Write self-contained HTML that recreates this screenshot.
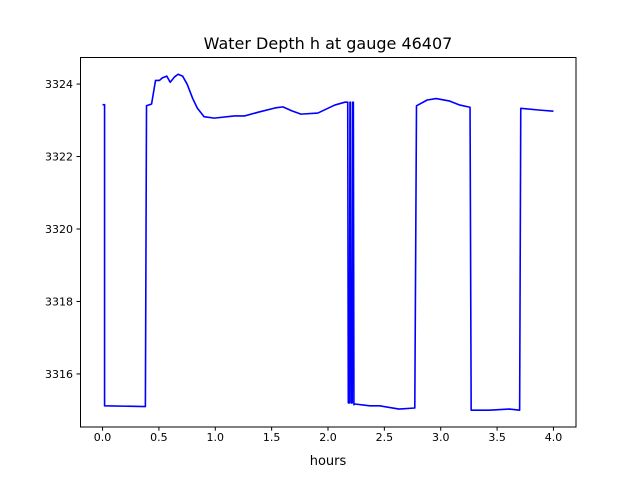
<!DOCTYPE html>
<html><head><meta charset="utf-8"><style>
body{margin:0;background:#fff;}
svg{display:block;font-family:"DejaVu Sans","Liberation Sans",sans-serif;}
</style></head><body>
<svg id="chart" width="640" height="480">
<rect x="0" y="0" width="640" height="480" fill="#fff"/>
<text x="328" y="49" text-anchor="middle" font-size="16">Water Depth h at gauge 46407</text>
<text x="328" y="465" text-anchor="middle" font-size="13">hours</text>
<g id="ticks"></g>
<path id="line" fill="none" stroke="#0000ff" stroke-width="1.6" stroke-linejoin="round"/>
<rect x="80.5" y="57.5" width="495.5" height="369.5" fill="none" stroke="#000" stroke-width="1"/>
</svg>
<script>
const hours = [0,0.018,0.018,0.38,0.39,0.435,0.47,0.505,0.53,0.57,0.60,0.64,0.67,0.71,0.75,0.80,0.84,0.90,0.99,1.17,1.26,1.39,1.53,1.6,1.68,1.76,1.91,2.06,2.15,2.175,2.18,2.19,2.195,2.20,2.205,2.215,2.22,2.225,2.23,2.24,2.37,2.46,2.63,2.77,2.785,2.88,2.96,3.08,3.17,3.26,3.27,3.43,3.61,3.70,3.71,3.88,4.0];
const depth = [3323.43,3323.43,3315.12,3315.1,3323.4,3323.45,3324.1,3324.1,3324.17,3324.22,3324.05,3324.2,3324.27,3324.22,3324.0,3323.6,3323.34,3323.1,3323.06,3323.12,3323.12,3323.23,3323.34,3323.37,3323.26,3323.17,3323.2,3323.42,3323.5,3323.5,3315.2,3315.2,3323.5,3323.5,3315.2,3315.2,3323.5,3323.5,3315.15,3315.17,3315.12,3315.12,3315.03,3315.06,3323.4,3323.56,3323.6,3323.53,3323.42,3323.36,3315.0,3315.0,3315.03,3315.0,3323.33,3323.28,3323.25];
const xTicks = [0.0,0.5,1.0,1.5,2.0,2.5,3.0,3.5,4.0];
const xTickLabels = ["0.0","0.5","1.0","1.5","2.0","2.5","3.0","3.5","4.0"];
const yTicks = [3316,3318,3320,3322,3324];
const yTickLabels = ["3316","3318","3320","3322","3324"];
const X0=-0.2,X1=4.2,Y0=3314.53,Y1=3324.73;
const L=80,R=576,T=57.6,B=427.2;
function xs(v){return L+(v-X0)/(X1-X0)*(R-L);}
function ys(v){return B-(v-Y0)/(Y1-Y0)*(B-T);}
const NS="http://www.w3.org/2000/svg";
const g=document.getElementById('ticks');
xTicks.forEach((t,i)=>{
 const l=document.createElementNS(NS,'line');
 l.setAttribute('x1',xs(t));l.setAttribute('x2',xs(t));l.setAttribute('y1',B);l.setAttribute('y2',B+3.5);l.setAttribute('stroke','#000');
 
 
 g.appendChild(l);
 const tx=document.createElementNS(NS,'text');
 tx.setAttribute('x',xs(t));tx.setAttribute('y',B+14);tx.setAttribute('text-anchor','middle');tx.setAttribute('font-size','11');
 tx.textContent=xTickLabels[i];
 
 
 g.appendChild(tx);
});
yTicks.forEach((t,i)=>{
 const l=document.createElementNS(NS,'line');
 l.setAttribute('x1',L-3.5);l.setAttribute('x2',L);l.setAttribute('y1',ys(t));l.setAttribute('y2',ys(t));l.setAttribute('stroke','#000');
 
 
 g.appendChild(l);
 const tx=document.createElementNS(NS,'text');
 tx.setAttribute('x',L-7);tx.setAttribute('y',ys(t)+4);tx.setAttribute('text-anchor','end');tx.setAttribute('font-size','11');
 tx.textContent=yTickLabels[i];
 
 
 g.appendChild(tx);
});
document.getElementById('line').setAttribute('d',hours.map((h,i)=>(i?'L':'M')+xs(h).toFixed(2)+' '+ys(depth[i]).toFixed(2)).join(' '));
</script>
</body></html>
